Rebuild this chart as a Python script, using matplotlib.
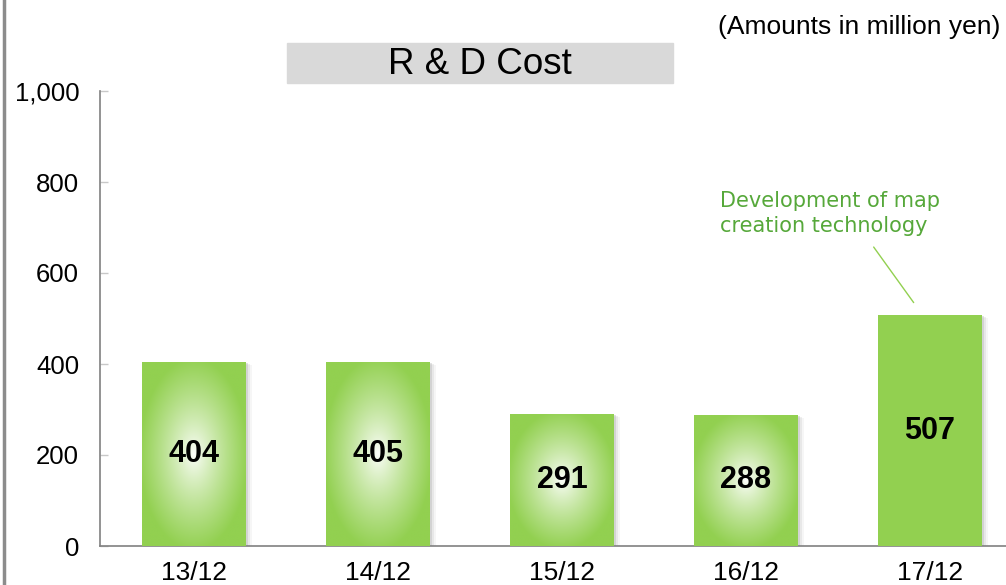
import numpy as np
import matplotlib.pyplot as plt
from matplotlib.patches import Rectangle
from matplotlib.colors import to_rgb
import matplotlib.transforms as mtransforms

plt.rcParams['font.family'] = ['Liberation Sans', 'DejaVu Sans']

# Data
years = ['13/12', '14/12', '15/12', '16/12', '17/12']
cost = [404, 405, 291, 288, 507]
y_ticks = [0, 200, 400, 600, 800, 1000]
y_tick_labels = ['0', '200', '400', '600', '800', '1,000']
title = 'R & D Cost'
unit_note = '(Amounts in million yen)'
note = 'Development of map\ncreation technology'

green = '#92D050'

fig = plt.figure(figsize=(10.06, 5.85), dpi=100)
ax = fig.add_axes([100 / 1006, 39 / 585, 906 / 1006, 455 / 585])

x = np.arange(len(years))
bars = ax.bar(x, cost, width=0.565, color=green, zorder=3)

# soft drop shadow behind each bar
for off, a in [(2, 0.35), (4, 0.2), (6, 0.1)]:
    shadow_tf = ax.transData + mtransforms.ScaledTranslation(off / 100, -off / 200, fig.dpi_scale_trans)
    for b in bars:
        sh = Rectangle((b.get_x(), 0), b.get_width(), b.get_height(), color='#b0b0b0',
                       alpha=a, transform=shadow_tf, zorder=2, lw=0)
        ax.add_patch(sh)

# radial gradient fill (white centre -> green edge) for the first four bars
g = np.array(to_rgb(green))
n = 200
yy, xx = np.mgrid[-1:1:n * 1j, -1:1:n * 1j]
r = np.clip(np.sqrt(xx ** 2 + yy ** 2) / 1.05, 0, 1) ** 0.8
img = (1 - r)[..., None] * np.ones(3) + r[..., None] * g
for b in bars[:4]:
    x0, w, h = b.get_x(), b.get_width(), b.get_height()
    im = ax.imshow(img, extent=(x0, x0 + w, 0, h), aspect='auto', zorder=4,
                   interpolation='bilinear')
    im.set_clip_path(b)

for b, v in zip(bars, cost):
    ax.text(b.get_x() + b.get_width() / 2, v / 2, str(v), ha='center', va='center',
            fontsize=22, fontweight='bold', color='black', zorder=6)

ax.set_xlim(-0.511, 4.413)
ax.set_ylim(0, 1000)
ax.set_yticks(y_ticks)
ax.set_yticklabels(y_tick_labels)
ax.set_xticks(x)
ax.set_xticklabels(years)
ax.tick_params(axis='y', direction='in', length=6, width=1, color='#c8c8c8',
               pad=15, labelsize=18.5)
ax.tick_params(axis='x', length=0, pad=11, labelsize=19)
for s in ['top', 'right']:
    ax.spines[s].set_visible(False)
for s in ['left', 'bottom']:
    ax.spines[s].set_color('#808080')
    ax.spines[s].set_linewidth(1.2)

# annotation for 17/12
ax.annotate('', xy=(3.92, 530), xytext=(3.685, 662),
            arrowprops=dict(arrowstyle='-', color=green, lw=1), zorder=6)
ax.text(2.86, 730, note, color='#56A83A', fontsize=15, family='DejaVu Sans',
        ha='left', va='center', linespacing=1.3)

# title box
fig.patches.append(Rectangle((287 / 1006, 1 - 83 / 585), 386 / 1006, 40 / 585,
                             transform=fig.transFigure, color='#D9D9D9', zorder=0))
fig.text(480 / 1006, 1 - 65 / 585, title, ha='center', va='center', fontsize=26.5)
fig.text(1000 / 1006, 1 - 27 / 585, unit_note, ha='right', va='center', fontsize=19)

# left border line
fig.add_artist(plt.Line2D([4 / 1006, 4 / 1006], [0, 1], transform=fig.transFigure,
                          color='#8c8c8c', lw=2.5))

fig.savefig('out.png', dpi=100)
